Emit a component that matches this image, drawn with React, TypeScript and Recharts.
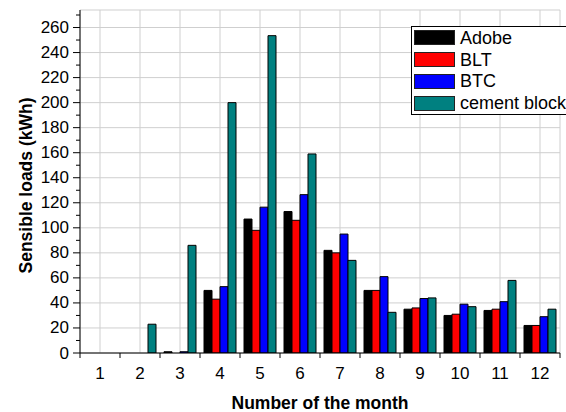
import React from 'react';
import { BarChart, Bar, XAxis, YAxis, CartesianGrid, Label } from 'recharts';

const months = ['1', '2', '3', '4', '5', '6', '7', '8', '9', '10', '11', '12'];
const adobe = [0, 0, 1, 50, 107, 113, 82, 50, 35, 30, 34, 22];
const blt = [0, 0, 0, 43, 98, 106, 80, 50, 36, 31, 35, 22];
const btc = [0, 0, 1, 53, 116.5, 126.5, 95, 61, 43.5, 39, 41, 29];
const cement = [0, 23, 86, 200, 253.5, 159, 74, 32.5, 44, 37, 58, 35];

const yTicks = [0, 10, 20, 30, 40, 50, 60, 70, 80, 90, 100, 110, 120, 130, 140, 150, 160, 170, 180, 190, 200, 210, 220, 230, 240, 250, 260, 270];
const yMajor = yTicks.filter((v) => v % 20 === 0);
const yDomain = [0, 274];

const series = [
  { key: 'adobe', name: 'Adobe', color: '#000000' },
  { key: 'blt', name: 'BLT', color: '#ff0000' },
  { key: 'btc', name: 'BTC', color: '#0000ff' },
  { key: 'cement', name: 'cement block', color: '#008080' },
];

const data = months.map((m, i) => ({
  month: m,
  adobe: adobe[i],
  blt: blt[i],
  btc: btc[i],
  cement: cement[i],
}));

const FONT = '"Liberation Sans", Arial, sans-serif';

const XTick = (props: any) => {
  const { x, y, payload, index } = props;
  const half = payload.offset ?? 20;
  return (
    <g>
      <line x1={x - half} x2={x - half} y1={y} y2={y + 5} stroke="#000" />
      {index === months.length - 1 && (
        <line x1={x + half} x2={x + half} y1={y} y2={y + 5} stroke="#000" />
      )}
      <text x={x} y={y + 26} textAnchor="middle" fontSize={17} fontFamily={FONT} fill="#000">
        {payload.value}
      </text>
    </g>
  );
};

const YTick = (props: any) => {
  const { x, y, payload } = props;
  const major = payload.value % 20 === 0;
  return (
    <g>
      <line x1={x - (major ? 7 : 4)} x2={x} y1={y} y2={y} stroke="#000" />
      {major && (
        <text x={x - 11} y={y + 5.5} textAnchor="end" fontSize={17} fontFamily={FONT} fill="#000">
          {payload.value}
        </text>
      )}
    </g>
  );
};

const YLabel = (props: any) => {
  const { viewBox } = props;
  const cx = viewBox.x + 32;
  const cy = viewBox.y + viewBox.height / 2 + 4;
  return (
    <text
      x={cx}
      y={cy}
      transform={`rotate(-90 ${cx} ${cy})`}
      textAnchor="middle"
      fontSize={17.5}
      fontWeight="bold"
      fontFamily={FONT}
      fill="#000"
    >
      Sensible loads (kWh)
    </text>
  );
};

const XLabel = (props: any) => {
  const { viewBox } = props;
  return (
    <text
      x={viewBox.x + viewBox.width / 2}
      y={viewBox.y + viewBox.height - 3}
      textAnchor="middle"
      fontSize={17.5}
      fontWeight="bold"
      fontFamily={FONT}
      fill="#000"
    >
      Number of the month
    </text>
  );
};

const App = () => {
  return (
    <div style={{ position: 'absolute', left: 0, top: 0, width: 566, height: 412, overflow: 'hidden', background: '#fff' }}>
      <BarChart
        width={566}
        height={412}
        data={data}
        margin={{ top: 10, right: 6, left: 0, bottom: 0 }}
        barCategoryGap="10%"
        barGap={0}
      >
        <CartesianGrid stroke="#cfcfcf" yAxisId="grid" />
        <XAxis
          dataKey="month"
          height={59}
          tickSize={0}
          tickMargin={0}
          tick={<XTick />}
          axisLine={{ stroke: '#000' }}
          interval={0}
        >
          <Label content={<XLabel />} />
        </XAxis>
        <YAxis
          width={80}
          domain={yDomain}
          ticks={yTicks}
          interval={0}
          tickSize={0}
          tickMargin={0}
          tick={<YTick />}
          axisLine={{ stroke: '#000' }}
          allowDataOverflow
        >
          <Label content={<YLabel />} />
        </YAxis>
        <YAxis yAxisId="grid" hide domain={yDomain} ticks={yMajor} interval={0} allowDataOverflow />
        {series.map((s) => (
          <Bar
            key={s.key}
            dataKey={s.key}
            name={s.name}
            fill={s.color}
            stroke="#000"
            strokeWidth={1}
            isAnimationActive={false}
          />
        ))}
      </BarChart>
      <div
        style={{
          position: 'absolute',
          left: 411,
          top: 26,
          width: 200,
          border: '1px solid #000',
          background: '#fff',
          fontFamily: FONT,
          fontSize: 18,
          color: '#000',
          boxSizing: 'border-box',
        }}
      >
        {series.map((s) => (
          <div key={s.key} style={{ display: 'flex', alignItems: 'center', height: 21.8 }}>
            <div
              style={{
                width: 41,
                height: 15,
                marginLeft: 2,
                marginRight: 5,
                background: s.color,
                border: '1px solid #222',
                boxSizing: 'border-box',
                flexShrink: 0,
              }}
            />
            <span style={{ lineHeight: '18px', whiteSpace: 'nowrap' }}>{s.name}</span>
          </div>
        ))}
      </div>
    </div>
  );
};

export default App;
